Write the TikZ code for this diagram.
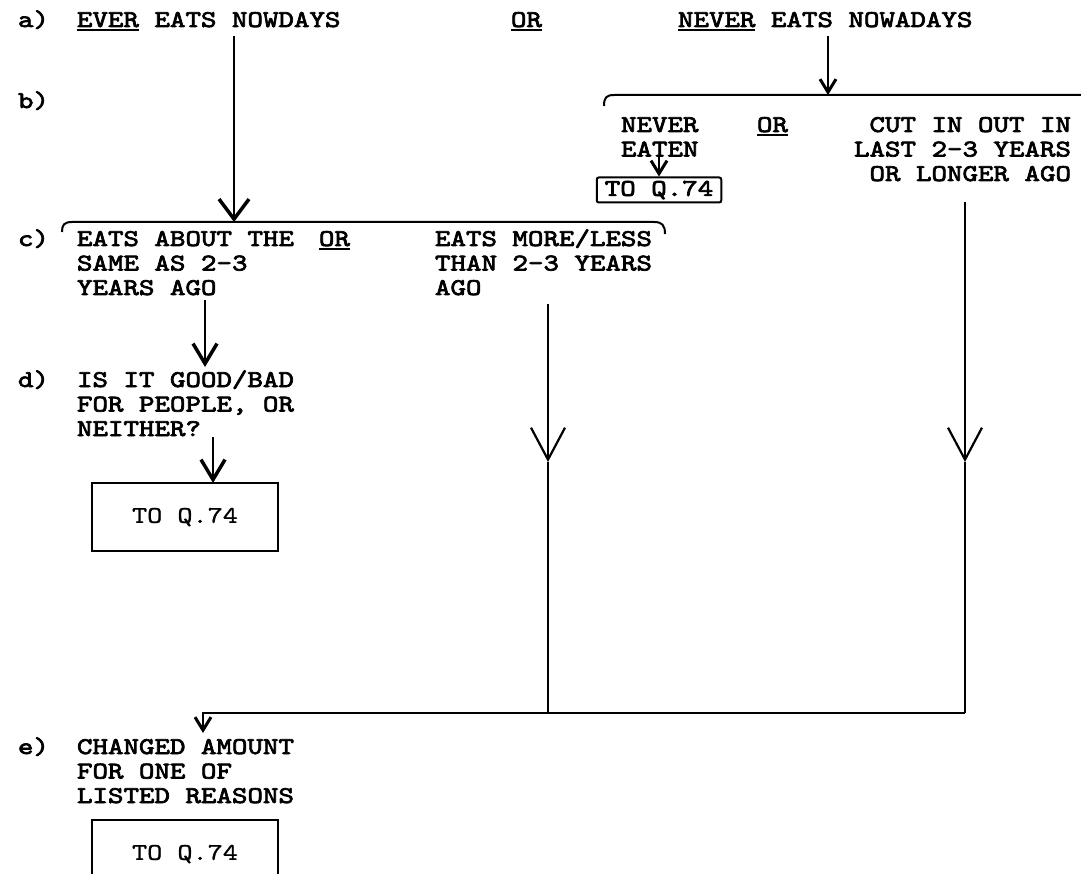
\documentclass[tikz,border=0pt]{standalone}
\usepackage{fontspec}
\setmainfont{lmmono10-regular.otf}[FakeStretch=1.23,FakeBold=3]
\newfontfamily\lightmono{lmmono10-regular.otf}[FakeStretch=1.2,FakeBold=1]
\usetikzlibrary{arrows.meta}
\newcommand\tw{\fontsize{24}{24.5}\selectfont}
\newcommand\twl{\lightmono\fontsize{24}{24.5}\selectfont}
\newcommand\sk{\rule{0pt}{19pt}}
\newcommand\ul[1]{\sbox0{#1}\rlap{\rule[-4.5pt]{\wd0}{2pt}}#1}
\begin{document}
\begin{tikzpicture}[x=1pt,y=-1pt,line width=2pt,
  txt/.style={anchor=north west,inner sep=0pt,font=\tw,align=left},
  txtr/.style={anchor=north east,inner sep=0pt,font=\tw,align=right},
  qbox/.style={draw,line width=2pt,inner sep=0pt,minimum width=186pt,minimum height=68pt,font=\twl},
  hs/.style={-{Straight Barb[length=13pt,width=16pt,line width=3pt]}},
  hm/.style={-{Straight Barb[length=20pt,width=24pt,line width=3.5pt]}},
  hb/.style={-{Straight Barb[length=20pt,width=30pt,line width=3.5pt]}},
  hv/.style={-{Straight Barb[length=32pt,width=34pt,line width=2.2pt]}}]
\useasboundingbox (0,0) rectangle (1081,874);
\clip (0,0) rectangle (1081,874);
% row a
\node[txt] (a) at (17,7) {\sk a)};
\node[txt] (ever) at (76,7) {\sk\ul{EVER} EATS NOWDAYS};
\node[txt] (orA) at (510,7) {\sk\ul{OR}};
\node[txt] (never) at (677,7) {\sk\ul{NEVER} EATS NOWADAYS};
% row b
\node[txt] (b) at (17,88) {\sk b)};
\coordinate (bb) at (828,95);
\draw (604,106) .. controls (604,98) and (606,95) .. (614,95) -- (1081,95);
\draw[hs,shorten <=4pt] (never.south -| bb) -- (bb);
\node[txt] (ne) at (620,112) {\sk NEVER\\EATEN};
\node[txt] (orB) at (756,112) {\sk\ul{OR}};
\node[txtr] (cut) at (1072,112) {\sk CUT IN OUT IN\\LAST 2-3 YEARS\\OR LONGER AGO};
\node[draw,line width=2pt,rounded corners=2pt,inner xsep=8pt,inner ysep=0pt,minimum height=25pt,font=\tw] (q1) at (659,190) {TO Q.74};
\draw[hs] (ne.south -| q1.north) -- (q1.north);
% row c
\coordinate (cb) at (234,222);
\draw (62,232) .. controls (62,225) and (64,222) .. (72,222) -- (654,222) .. controls (662,222) and (665,225) .. (665,234);
\draw[hb,shorten <=4pt] (ever.south -| cb) -- (cb);
\node[txt] (c) at (17,226) {\sk c)};
\node[txt] (same) at (76,226) {\sk EATS ABOUT THE\\SAME AS 2-3\\YEARS AGO};
\node[txt] (orC) at (318,226) {\sk\ul{OR}};
\node[txt] (more) at (434,226) {\sk EATS MORE/LESS\\THAN 2-3 YEARS\\AGO};
% row d
\coordinate (cd) at (205,367);
\draw[hm,shorten <=4pt] (same.south -| cd) -- (cd);
\node[txt] (d) at (17,367) {\sk d)};
\node[txt] (good) at (76,367) {\sk IS IT GOOD/BAD\\FOR PEOPLE, OR\\NEITHER?};
\node[qbox] (q2) at (185,517) {TO Q.74};
\coordinate (dq) at (213,483);
\draw[hm] (good.south -| dq) -- (dq);
% long lines
\coordinate (m1) at (548,462);
\coordinate (e1) at (548,713);
\coordinate (m2) at (965,462);
\coordinate (e2) at (965,713);
\draw[hv,shorten <=8pt] (more.south -| m1) -- (m1);
\draw (m1) -- (e1);
\draw[hv,shorten <=20pt] (cut.south -| m2) -- (m2);
\draw (m2) -- (e2);
% row e
\coordinate (e0) at (203,713);
\coordinate (et) at (203,733);
\draw[hs] (e2) -- (e0) -- (et);
\node[txt] (e) at (17,734) {\sk e)};
\node[txt] (changed) at (76,734) {\sk CHANGED AMOUNT\\FOR ONE OF\\LISTED REASONS};
\node[qbox] (q3) at (185,854) {TO Q.74};
\end{tikzpicture}
\end{document}
